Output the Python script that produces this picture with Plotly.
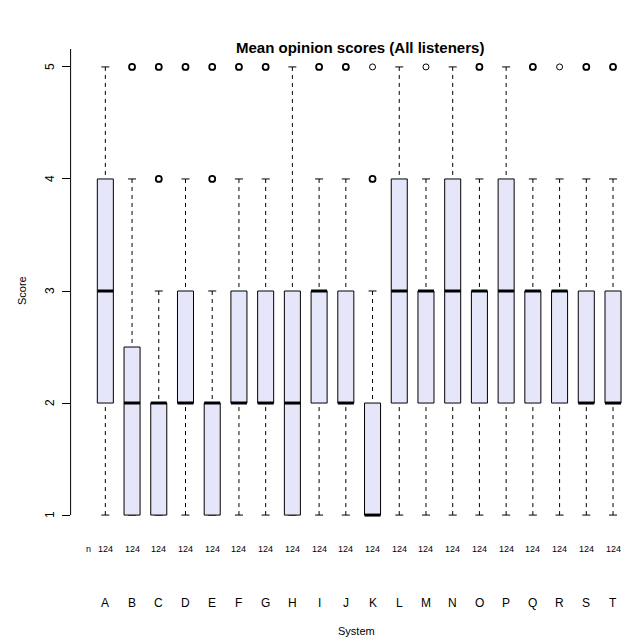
import plotly.graph_objects as go

# Listening-test results per system: five-number summaries and outliers
systems = list("ABCDEFGHIJKLMNOPQRST")
n_listeners = [124] * 20
whisker_low = [1, 1, 1, 1, 1, 1, 1, 1, 1, 1, 1, 1, 1, 1, 1, 1, 1, 1, 1, 1]
q1 = [2, 1, 1, 2, 1, 2, 2, 1, 2, 2, 1, 2, 2, 2, 2, 2, 2, 2, 2, 2]
median = [3, 2, 2, 2, 2, 2, 2, 2, 3, 2, 1, 3, 3, 3, 3, 3, 3, 3, 2, 2]
q3 = [4, 2.5, 2, 3, 2, 3, 3, 3, 3, 3, 2, 4, 3, 4, 3, 4, 3, 3, 3, 3]
whisker_high = [5, 4, 3, 4, 3, 4, 4, 5, 4, 4, 3, 5, 4, 5, 4, 5, 4, 4, 4, 4]
outliers = [[], [5], [4, 5], [5], [4, 5], [5], [5], [], [5], [5],
            [4, 5], [], [5], [], [5], [], [5], [5], [5], [5]]
score_ticks = [1, 2, 3, 4, 5]

W, H = 629, 638
FONT = "Liberation Sans, Arial, Helvetica, sans-serif"
BOX_HALF = 0.3
STAPLE_HALF = 0.15
# outlier points drawn with a lighter stroke
light_points = {("K", 5), ("M", 5), ("R", 5)}


def px_x(p):
    return p / W


def px_y(p):
    return 1 - p / H


fig = go.Figure()
shapes = []
xs = list(range(1, len(systems) + 1))

for x, lo, a, m, b, hi in zip(xs, whisker_low, q1, median, q3, whisker_high):
    # dashed whiskers, drawn from the staple towards the box
    for end, edge in ((hi, b), (lo, a)):
        if end != edge:
            shapes.append(dict(type="line", xref="x", yref="y", x0=x, x1=x, y0=end, y1=edge,
                               line=dict(color="black", width=1, dash="4px,4px")))
        shapes.append(dict(type="line", xref="x", yref="y",
                           x0=x - STAPLE_HALF, x1=x + STAPLE_HALF, y0=end, y1=end,
                           line=dict(color="black", width=1)))
    # box
    shapes.append(dict(type="rect", xref="x", yref="y",
                       x0=x - BOX_HALF, x1=x + BOX_HALF, y0=a, y1=b,
                       fillcolor="#E6E6FA", line=dict(color="black", width=1)))
    # median
    shapes.append(dict(type="line", xref="x", yref="y",
                       x0=x - BOX_HALF, x1=x + BOX_HALF, y0=m, y1=m,
                       line=dict(color="black", width=3)))

# y axis line
shapes.append(dict(type="line", xref="x domain", yref="y", x0=0, x1=0, y0=1, y1=5.18,
                   line=dict(color="black", width=1)))

# outliers
for bold in (True, False):
    ox, oy = [], []
    for x, name, pts in zip(xs, systems, outliers):
        for v in pts:
            if ((name, v) in light_points) != bold:
                ox.append(x)
                oy.append(v)
    fig.add_trace(go.Scatter(
        x=ox, y=oy, mode="markers", showlegend=False, hoverinfo="skip",
        marker=dict(symbol="circle-open", size=6, color="black",
                    line=dict(width=1.8 if bold else 1, color="black")),
    ))


def label(text, x, y, size, xref="paper", yref="paper", angle=0):
    return dict(text=text, x=x, xref=xref, y=y, yref=yref, showarrow=False,
                textangle=angle, xanchor="center", yanchor="middle",
                font=dict(family=FONT, size=size, color="black"))


annotations = []
# y tick labels, rotated as in base R graphics
for t in score_ticks:
    annotations.append(label(str(t), px_x(50), t, 12, yref="y", angle=-90))
# sample counts and system names
annotations.append(label("n", px_x(88), px_y(549), 9))
for x, name, n in zip(xs, systems, n_listeners):
    annotations.append(label(str(n), x, px_y(549), 9, xref="x"))
    annotations.append(label(name, x, px_y(603), 12, xref="x"))
annotations.append(label("System", px_x(356), px_y(631), 11))
annotations.append(label("Score", px_x(22), 3, 11, yref="y", angle=-90))
annotations.append(label("<b>Mean opinion scores (All listeners)</b>", px_x(360), px_y(47), 15))

unit = 26.72
x_left_px = 70.6
fig.update_layout(
    width=W, height=H, margin=dict(l=0, r=0, t=0, b=0),
    paper_bgcolor="white", plot_bgcolor="white",
    shapes=shapes, annotations=annotations, showlegend=False,
    xaxis=dict(domain=[px_x(x_left_px), 1], range=[-0.3, -0.3 + (W - x_left_px) / unit],
               showgrid=False, zeroline=False, showticklabels=False, ticks="", showline=False),
    yaxis=dict(domain=[px_y(533), px_y(49)], range=[0.84, 5.16],
               tickvals=score_ticks, ticks="outside", ticklen=8, tickcolor="black", tickwidth=1,
               showticklabels=False, showgrid=False, zeroline=False, showline=False),
)

fig.write_html("out.html")
